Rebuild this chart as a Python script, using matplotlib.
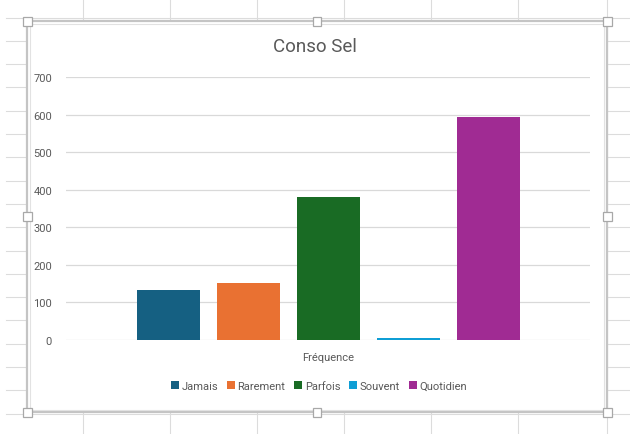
import matplotlib
matplotlib.use('Agg')
import matplotlib.pyplot as plt
from matplotlib.lines import Line2D
from matplotlib.patches import Rectangle

plt.rcParams['font.family'] = ['Roboto', 'DejaVu Sans']

# consommation de sel par fréquence
series = ['Jamais', 'Rarement', 'Parfois', 'Souvent', 'Quotidien']
values = [133, 152, 380, 6, 593]
colors = ['#156082', '#E97132', '#196B24', '#0F9ED5', '#A02B93']
category = 'Fréquence'
yticks = [0, 100, 200, 300, 400, 500, 600, 700]

W, H = 630, 435
fig = plt.figure(figsize=(W / 100, H / 100), dpi=100)
fig.patch.set_facecolor('white')


def fx(x):
    return x / W


def fy(y):
    return 1 - y / H


# grille du tableur en fond
sheet = '#dcdcdc'
for x in [83, 170, 257, 344, 431, 518, 607]:
    fig.add_artist(Line2D([fx(x), fx(x)], [0, 1], color=sheet, lw=0.8, zorder=0))
y = 18.5
while y < H:
    fig.add_artist(Line2D([fx(6), 1], [fy(y), fy(y)], color=sheet, lw=0.8, zorder=0))
    y += 23.3

# zone du graphique (sélectionnée)
x0, y0, x1, y1 = 27, 22, 607, 413
fig.add_artist(Rectangle((fx(x0), fy(y1)), fx(x1 - x0), (y1 - y0) / H,
                         facecolor='white', edgecolor='#c4c4c4', lw=1.6, zorder=1))
fig.add_artist(Rectangle((fx(x0 + 2.5), fy(y1 - 2.5)), fx(x1 - x0 - 5), (y1 - y0 - 5) / H,
                         facecolor='none', edgecolor='#e2e2e2', lw=0.8, zorder=1))
hs = 9
for hx in [x0, (x0 + x1) / 2, x1]:
    for hy in [y0, (y0 + y1) / 2, y1]:
        if hx == (x0 + x1) / 2 and hy == (y0 + y1) / 2:
            continue
        fig.add_artist(Rectangle((fx(hx - hs / 2), fy(hy + hs / 2)), fx(hs), hs / H,
                                 facecolor='white', edgecolor='#a8a8a8', lw=0.9, zorder=6))

ax = fig.add_axes([fx(66), fy(341), fx(590 - 66), (341 - 78) / H])
ax.set_zorder(3)
ax.patch.set_visible(False)

step = 80 / 524
width = 63 / 524
for i, (name, v, c) in enumerate(zip(series, values, colors)):
    ax.bar((i - 2) * step, v, width=width, color=c, label=name, zorder=3)

ax.set_xlim(-0.5, 0.5)
ax.set_ylim(0, 700)
ax.set_yticks(yticks)
ax.set_xticks([0])
ax.set_xticklabels([category])
ax.grid(axis='y', color='#d9d9d9', lw=0.9, zorder=0)
ax.set_axisbelow(True)
for s in ax.spines.values():
    s.set_visible(False)
ax.tick_params(axis='both', length=0, labelsize=8, colors='#595959')
ax.tick_params(axis='y', pad=10)
ax.tick_params(axis='x', pad=9)

fig.text(fx(315), fy(47), 'Conso Sel', ha='center', va='center', fontsize=13.5,
         color='#595959', zorder=4)

fig.legend(loc='center', bbox_to_anchor=(fx(319), fy(387)), ncol=5, frameon=False,
           fontsize=8, labelcolor='#595959', handlelength=0.7, handleheight=0.7,
           handletextpad=0.25, columnspacing=0.8, borderaxespad=0)

fig.savefig('out.png', dpi=100)
